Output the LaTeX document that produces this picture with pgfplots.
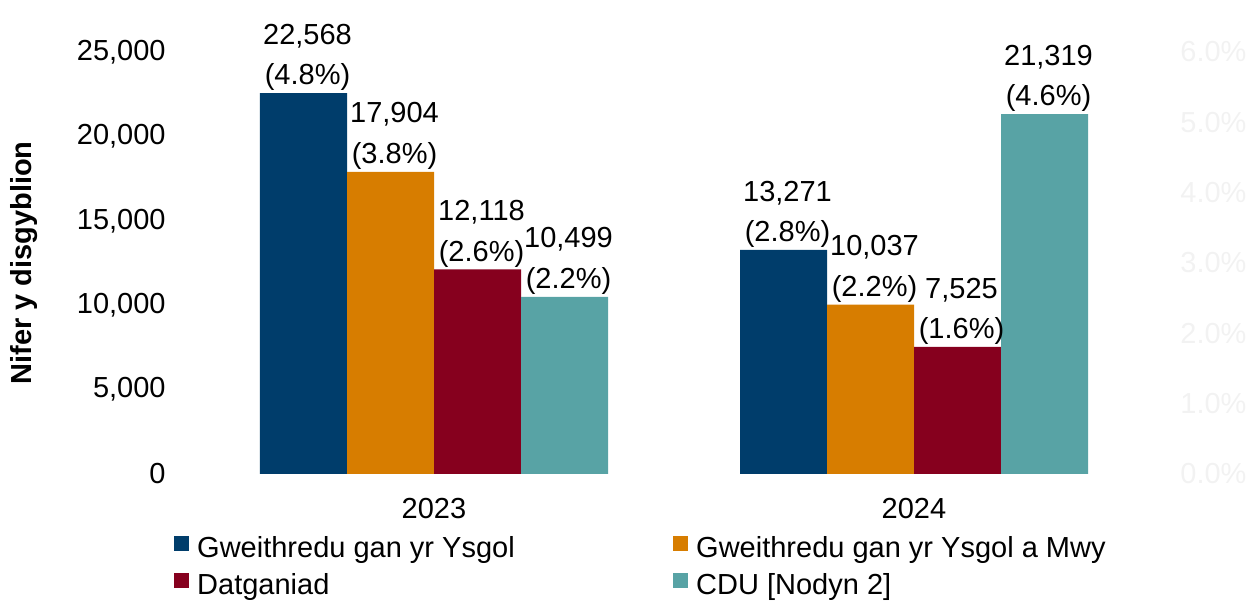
\documentclass[border=0pt]{standalone}
\usepackage{fontspec}
\setmainfont{Liberation Sans}
\usepackage{pgfplots}
\pgfplotsset{compat=1.18}
\usepackage{pgfplotstable}

\definecolor{cblue}{HTML}{003D6B}
\definecolor{corange}{HTML}{D77D00}
\definecolor{cred}{HTML}{86001E}
\definecolor{cteal}{HTML}{58A3A5}
\definecolor{cgray}{HTML}{F2F2F2}

\newcommand{\fs}{\fontsize{14.5}{20.25}\selectfont}

\pgfplotstableread{
x y pct
0 22568 4.8
1 13271 2.8
}\tblA
\pgfplotstableread{
x y pct
0 17904 3.8
1 10037 2.2
}\tblB
\pgfplotstableread{
x y pct
0 12118 2.6
1 7525 1.6
}\tblC
\pgfplotstableread{
x y pct
0 10499 2.2
1 21319 4.6
}\tblD

\begin{document}
\begin{tikzpicture}
\begin{axis}[name=main, scale only axis, width=480pt, height=211pt,
  ybar=0pt, bar width=43.5pt,
  xmin=-0.5, xmax=1.5, ymin=0, ymax=25000,
  xtick={0,1}, xticklabels={2023,2024},
  ytick={0,5000,...,25000},
  axis line style={draw=none}, major tick length=0pt, tick style={draw=none},
  /pgf/number format/assume math mode=true,
  /pgf/number format/1000 sep={,},
  scaled y ticks=false,
  yticklabel style={font=\fs, inner sep=0pt, anchor=east, xshift=-14pt},
  xticklabel style={font=\fs, inner sep=0pt, anchor=north, yshift=-12pt},
  ylabel={Nifer y disgyblion},
  every axis y label/.style={at={(axis description cs:-0.177,0.5)}, rotate=90, anchor=center, font=\fs\bfseries},
  visualization depends on={\thisrow{pct}\as\pct},
  nodes near coords={\pgfmathprintnumber{\pgfplotspointmeta}\\(\pgfmathprintnumber[fixed,fixed zerofill,precision=1]{\pct}\%)},
  every node near coord/.append style={font=\fs, align=center, inner sep=0pt, anchor=south, yshift=1pt, xshift=2pt, text=black},
  every axis plot post/.append style={legend image code/.code={\fill[##1] (0pt,0pt) rectangle (7.5pt,7.5pt);}},
  legend columns=2,
  legend cell align=left,
  legend style={at={(axis description cs:-0.021,-0.1378)}, anchor=north west, draw=none, inner sep=0pt,
    column sep=0pt, row sep=0pt, font=\fs, nodes={inner sep=2pt, text height=10.5pt, text depth=4pt}},
]
\addplot[fill=cblue, draw=none] table[x=x,y=y] {\tblA};
\addlegendentry{\hspace{2pt}\makebox[236pt][l]{Gweithredu gan yr Ysgol}}
\addplot[fill=corange, draw=none] table[x=x,y=y] {\tblB};
\addlegendentry{\hspace{2pt}Gweithredu gan yr Ysgol a Mwy}
\addplot[fill=cred, draw=none] table[x=x,y=y] {\tblC};
\addlegendentry{\hspace{2pt}\makebox[236pt][l]{Datganiad}}
\addplot[fill=cteal, draw=none] table[x=x,y=y] {\tblD};
\addlegendentry{\hspace{2pt}CDU [Nodyn 2]}
\end{axis}
\begin{axis}[scale only axis, width=480pt, height=211pt,
  at={(main.south west)}, anchor=south west,
  xmin=-0.5, xmax=1.5, ymin=0, ymax=6, ytick={0,1,...,6},
  axis x line=none, axis y line*=right, axis line style={draw=none},
  major tick length=0pt, tick style={draw=none},
  /pgf/number format/assume math mode=true,
  yticklabel={\pgfmathprintnumber[fixed,fixed zerofill,precision=1]{\tick}\%},
  yticklabel style={font=\fs, text=cgray, inner sep=0pt, anchor=west, xshift=13pt},
]
\addplot[draw=none] coordinates {(0,0)};
\end{axis}
\pgfresetboundingbox
\path[use as bounding box] ([xshift=-97pt,yshift=-64pt]main.south west) rectangle ([xshift=49pt,yshift=26pt]main.north east);
\end{tikzpicture}
\end{document}
